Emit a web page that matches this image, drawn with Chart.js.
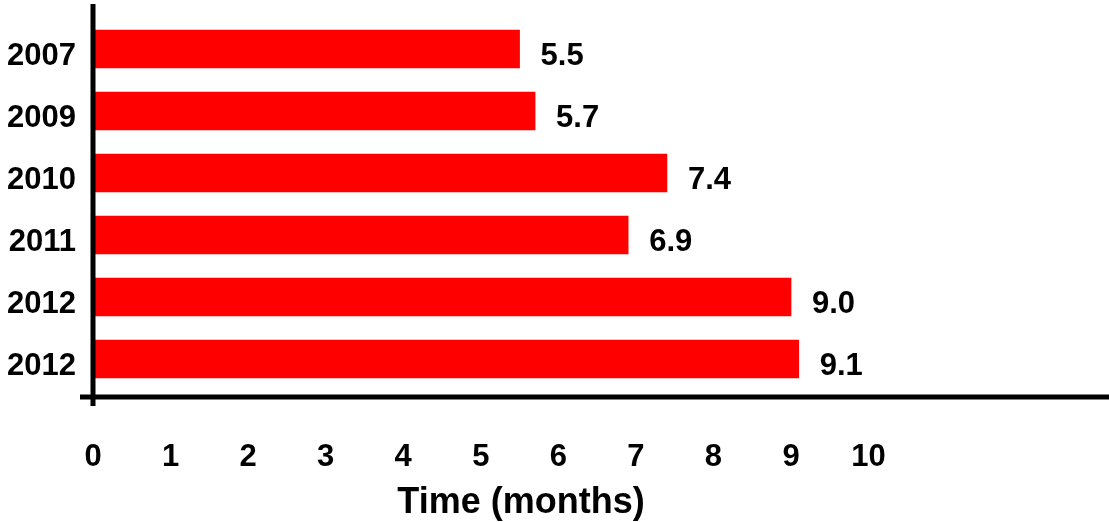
<!DOCTYPE html>
<html>
<head>
<meta charset="utf-8">
<title>Time (months)</title>
<script src="https://cdn.jsdelivr.net/npm/chart.js@4/dist/chart.umd.min.js"></script>
<style>
  html, body { margin: 0; padding: 0; background: #ffffff; }
  #wrap { position: relative; width: 1109px; height: 522px; }
</style>
</head>
<body>
<div id="wrap"><canvas id="chart"></canvas></div>
<script>
// Survey years and the time taken in each, in months
const years = ['2007', '2009', '2010', '2011', '2012', '2012'];
const months = [5.5, 5.7, 7.4, 6.9, 9.0, 9.1];
// Labelled ticks along the time axis
const monthTicks = [0, 1, 2, 3, 4, 5, 6, 7, 8, 9, 10];
const axisMax = 13.1;
const axisTitle = 'Time (months)';

const FONT = 'Arial, "Liberation Sans", Helvetica, sans-serif';

// Heavy black axis lines that run past the plot corner, plus the axis title
const axisLines = {
  id: 'axisLines',
  afterDatasetsDraw(chart) {
    const { ctx, chartArea } = chart;
    const x0 = chart.scales.x.getPixelForValue(0);
    const yAxisY = chartArea.bottom + 7;
    ctx.save();
    ctx.strokeStyle = '#000000';
    ctx.lineWidth = 5;
    ctx.lineCap = 'butt';
    ctx.beginPath();
    ctx.moveTo(x0, chartArea.top - 14);
    ctx.lineTo(x0, yAxisY + 9);
    ctx.stroke();
    ctx.beginPath();
    ctx.moveTo(x0 - 13, yAxisY);
    ctx.lineTo(chart.width, yAxisY);
    ctx.stroke();
    ctx.restore();
  },
  afterDraw(chart) {
    const { ctx } = chart;
    ctx.save();
    ctx.fillStyle = '#000000';
    ctx.font = 'bold 36px ' + FONT;
    ctx.textAlign = 'center';
    ctx.textBaseline = 'alphabetic';
    ctx.fillText(axisTitle, 521, 513);
    ctx.restore();
  }
};

// Value printed just past the end of every bar
const valueLabels = {
  id: 'valueLabels',
  afterDatasetsDraw(chart) {
    const { ctx } = chart;
    const meta = chart.getDatasetMeta(0);
    const values = chart.data.datasets[0].data;
    ctx.save();
    ctx.fillStyle = '#000000';
    ctx.font = 'bold 31px ' + FONT;
    ctx.textAlign = 'left';
    ctx.textBaseline = 'middle';
    meta.data.forEach((bar, i) => {
      ctx.fillText(Number(values[i]).toFixed(1), bar.x + 21, bar.y + 7);
    });
    ctx.restore();
  }
};

new Chart(document.getElementById('chart'), {
  type: 'bar',
  data: {
    labels: years,
    datasets: [{
      data: months,
      backgroundColor: '#ff0000',
      borderWidth: 0,
      barThickness: 38
    }]
  },
  options: {
    indexAxis: 'y',
    responsive: true,
    maintainAspectRatio: false,
    animation: false,
    layout: { padding: { top: 18, right: 0, bottom: 0, left: 0 } },
    plugins: {
      legend: { display: false },
      tooltip: { enabled: false },
      title: { display: false }
    },
    scales: {
      x: {
        type: 'linear',
        min: 0,
        max: axisMax,
        afterFit(scale) {
          scale.height = 132;
          scale.paddingLeft = 0;
          scale.paddingRight = 0;
        },
        afterBuildTicks(scale) {
          scale.ticks = monthTicks.map(v => ({ value: v }));
        },
        grid: { display: false, drawTicks: false },
        border: { display: false },
        ticks: {
          color: '#000000',
          padding: 49,
          maxRotation: 0,
          autoSkip: false,
          font: { family: FONT, size: 31, weight: 'bold' },
          callback: v => String(v)
        }
      },
      y: {
        type: 'category',
        offset: true,
        afterFit(scale) {
          scale.width = 93;
          scale.paddingTop = 0;
          scale.paddingBottom = 0;
        },
        grid: { display: false, drawTicks: false },
        border: { display: false },
        ticks: {
          color: '#000000',
          padding: 17,
          labelOffset: 7,
          autoSkip: false,
          font: { family: FONT, size: 31, weight: 'bold' }
        }
      }
    }
  },
  plugins: [axisLines, valueLabels]
});
</script>
</body>
</html>
